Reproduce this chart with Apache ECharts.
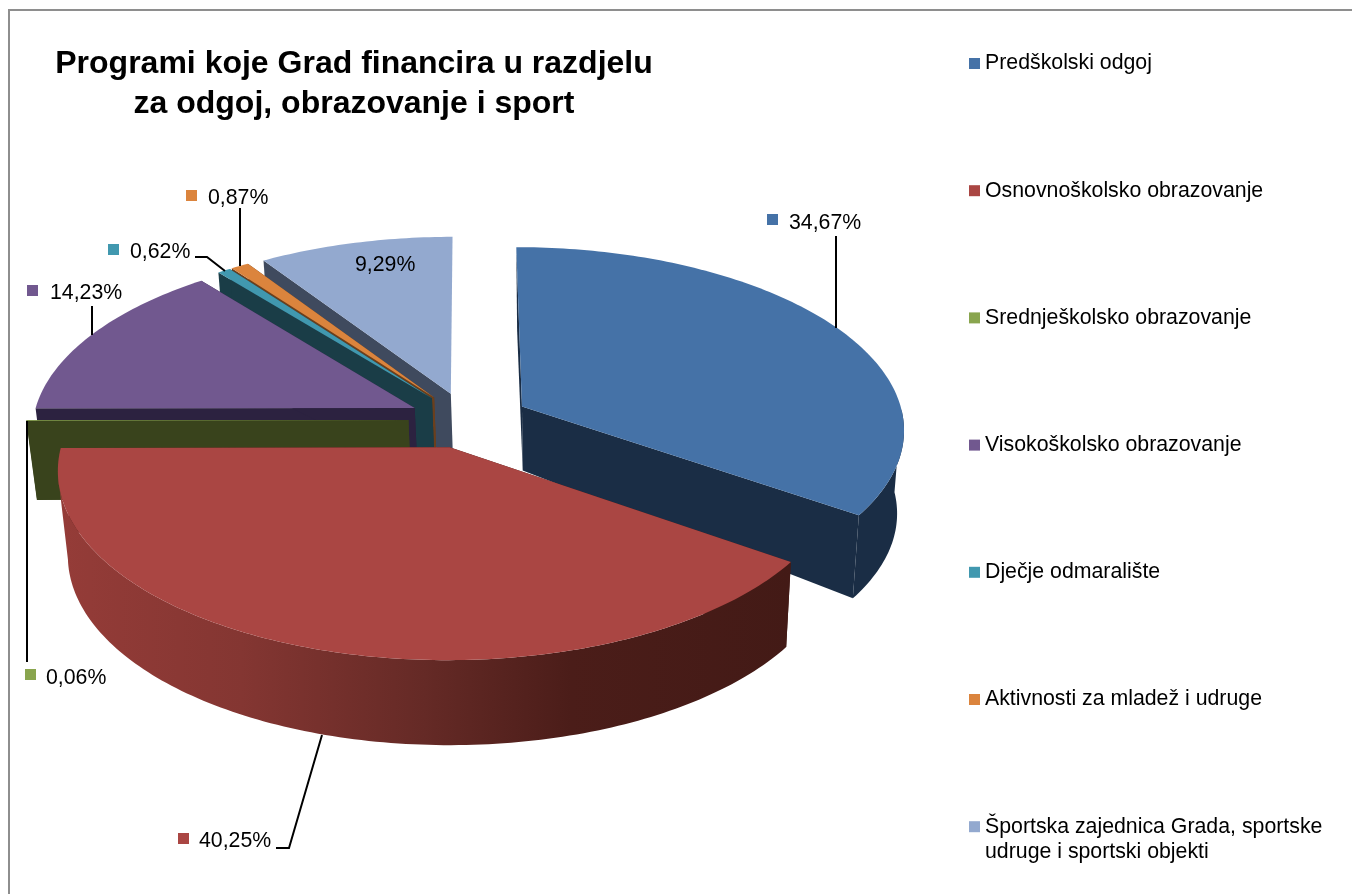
<!DOCTYPE html>
<html>
<head>
<meta charset="utf-8">
<title>Programi koje Grad financira</title>
<script src="https://cdn.jsdelivr.net/npm/echarts@6/dist/echarts.min.js"></script>
<style>
html, body { margin: 0; padding: 0; background: #fff; overflow: hidden; }
#chart { width: 1352px; height: 894px; }
</style>
</head>
<body>
<div id="chart"></div>
<script>
// podaci
var categories = [
    'Predškolski odgoj',
    'Osnovnoškolsko obrazovanje',
    'Srednješkolsko obrazovanje',
    'Visokoškolsko obrazovanje',
    'Dječje odmaralište',
    'Aktivnosti za mladež i udruge',
    'Športska zajednica Grada, sportske\nudruge i sportski objekti'
];
var shares = [34.67, 40.25, 0.06, 14.23, 0.62, 0.87, 9.29];

// boje
var topColors = ['#4572a7', '#aa4643', '#89a54e', '#71588f', '#4198af', '#db843d', '#93a9cf'];
var wallColors = ['#1a2d45', '#431a16', '#39431c', '#2c2240', '#1a3d47', '#6b3f1c', '#3f4a5e'];

// redoslijed crtanja, od straznje kriske prema prednjoj
var paintOrder = [6, 5, 4, 3, 2, 0, 1];

// oznake: kvadratic, tekst, linija
var markSpots = [[767, 214], [178, 833], [25, 669], [27, 285], [108, 244], [186, 190], [333, 259]];
var textSpots = [[789, 223], [199, 841], [46, 678], [50, 293], [130, 252], [208, 198], [355, 265]];
var leaders = [
    [[836, 328], [836, 236]],
    [[322, 735], [289, 848], [276, 848]],
    [[27, 421], [27, 662]],
    [[92, 335], [92, 306]],
    [[195, 257], [207, 257], [225, 271]],
    [[240, 266], [240, 208]],
    []
];

// geometrija pite
var CX = 467.5, CY = 420, R = 382;
var PERSP = 0.1175, TILT = 0.474;
var XN = 558, SHRINK = 0.98;
var explodes = [62, 59, 59, 59, 59, 59, 59];
var rimDepths = [83, 85, 79, 85, 85, 85, 85];
var apexDepths = [64, 64, 79, 64, 64, 64, 64];
// vidljivi dio vanjskog zida, u radijanima od vrha pite
var WALL_FROM = 90 * Math.PI / 180, WALL_TO = 262 * Math.PI / 180;
var LABEL_FONT = '21.3px "Liberation Sans"';

var total = shares.reduce(function (a, b) { return a + b; }, 0);

function project(u, v) {
    var s = 1 / (1 - PERSP * v / R);
    return [CX + u * s, CY + v * TILT * s];
}
function lower(p, depth) {
    return [XN + (p[0] - XN) * SHRINK, p[1] + depth];
}

function renderSlice(index) {
    return function (params, api) {
        var before = 0;
        for (var i = 0; i < index; i++) before += shares[i];
        var a0 = before / total * Math.PI * 2;
        var a1 = a0 + api.value(0) / total * Math.PI * 2;
        var mid = (a0 + a1) / 2;
        var ou = explodes[index] * Math.sin(mid), ov = -explodes[index] * Math.cos(mid);
        var apex = project(ou, ov);
        var rim = [], wallTop = [];
        var steps = Math.max(2, Math.ceil((a1 - a0) * 180 / Math.PI));
        for (var k = 0; k <= steps; k++) {
            var a = a0 + (a1 - a0) * k / steps;
            var p = project(ou + R * Math.sin(a), ov - R * Math.cos(a));
            rim.push(p);
            if (a >= WALL_FROM && a <= WALL_TO) wallTop.push(p);
        }
        var low = rim.map(function (p) { return lower(p, rimDepths[index]); });
        var wallLow = wallTop.map(function (p) { return lower(p, rimDepths[index]); });
        var apexLow = lower(apex, apexDepths[index]);
        var base = paintOrder.indexOf(index) * 10;

        var wallFill = wallColors[index];
        if (index === 1) {
            wallFill = {
                type: 'linear', x: 0, y: 0, x2: 1, y2: 0,
                colorStops: [
                    { offset: 0, color: '#953c38' },
                    { offset: 0.25, color: '#843632' },
                    { offset: 0.5, color: '#652a26' },
                    { offset: 0.7, color: '#4b1d19' },
                    { offset: 1, color: '#431a16' }
                ]
            };
        }
        function poly(points, fill, z2) {
            return { type: 'polygon', z2: z2, silent: true, shape: { points: points }, style: { fill: fill } };
        }
        var children = [
            poly([apex, rim[0], low[0], apexLow], wallColors[index], base),
            poly([apex].concat(rim), topColors[index], base + 2)
        ];
        if (wallTop.length > 1) {
            children.push(poly(wallTop.concat(wallLow.reverse()), wallFill, base + 1));
        }
        // zadnja kriska ne pokazuje desnu stranicu
        if (index < shares.length - 1) {
            children.push(poly([apex, rim[steps], low[steps], apexLow], wallColors[index], base));
        }
        // oznaka podatka
        children.push({
            type: 'rect', z2: 200, silent: true,
            shape: { x: markSpots[index][0], y: markSpots[index][1], width: 11, height: 11 },
            style: { fill: topColors[index] }
        });
        children.push({
            type: 'text', z2: 200, silent: true,
            x: textSpots[index][0], y: textSpots[index][1],
            style: {
                text: api.value(0).toFixed(2).replace('.', ',') + '%',
                fill: '#000', font: LABEL_FONT, textVerticalAlign: 'middle'
            }
        });
        if (leaders[index].length) {
            children.push({
                type: 'polyline', z2: 200, silent: true,
                shape: { points: leaders[index] },
                style: { stroke: '#000', lineWidth: 2, fill: null }
            });
        }
        return { type: 'group', children: children };
    };
}

var chart = echarts.init(document.getElementById('chart'));
var series = categories.map(function (name, i) {
    return {
        type: 'custom',
        name: name,
        coordinateSystem: 'none',
        silent: true,
        itemStyle: { color: topColors[i] },
        renderItem: renderSlice(i),
        data: [[shares[i]]]
    };
});

var option = {
    animation: false,
    backgroundColor: '#fff',
    textStyle: { fontFamily: '"Liberation Sans"' },
    title: {
        text: 'Programi koje Grad financira u razdjelu\nza odgoj, obrazovanje i sport',
        left: 354,
        top: 44,
        padding: 0,
        textAlign: 'center',
        textStyle: { fontFamily: '"Liberation Sans"', fontSize: 32, fontWeight: 'bold', color: '#000', lineHeight: 40 }
    },
    legend: {
        orient: 'vertical',
        left: 969,
        top: 53,
        padding: 0,
        height: 830,
        itemWidth: 11,
        itemHeight: 11,
        itemGap: 106.2,
        icon: 'rect',
        selectedMode: false,
        data: categories,
        formatter: function (name) { return name.split('\n')[0]; },
        textStyle: { fontFamily: '"Liberation Sans"', fontSize: 21.3, color: '#000', padding: 0 }
    },
    graphic: [
        {
            type: 'rect', z: -1, silent: true,
            shape: { x: 9, y: 10, width: 1400, height: 950 },
            style: { fill: 'none', stroke: '#8e8e8e', lineWidth: 2 }
        },
        {
            type: 'text', silent: true, x: 985, y: 852,
            style: {
                text: categories[6].split('\n')[1],
                fill: '#000', font: LABEL_FONT, textVerticalAlign: 'middle'
            }
        }
    ],
    series: series
};
chart.setOption(option);
</script>
</body>
</html>
